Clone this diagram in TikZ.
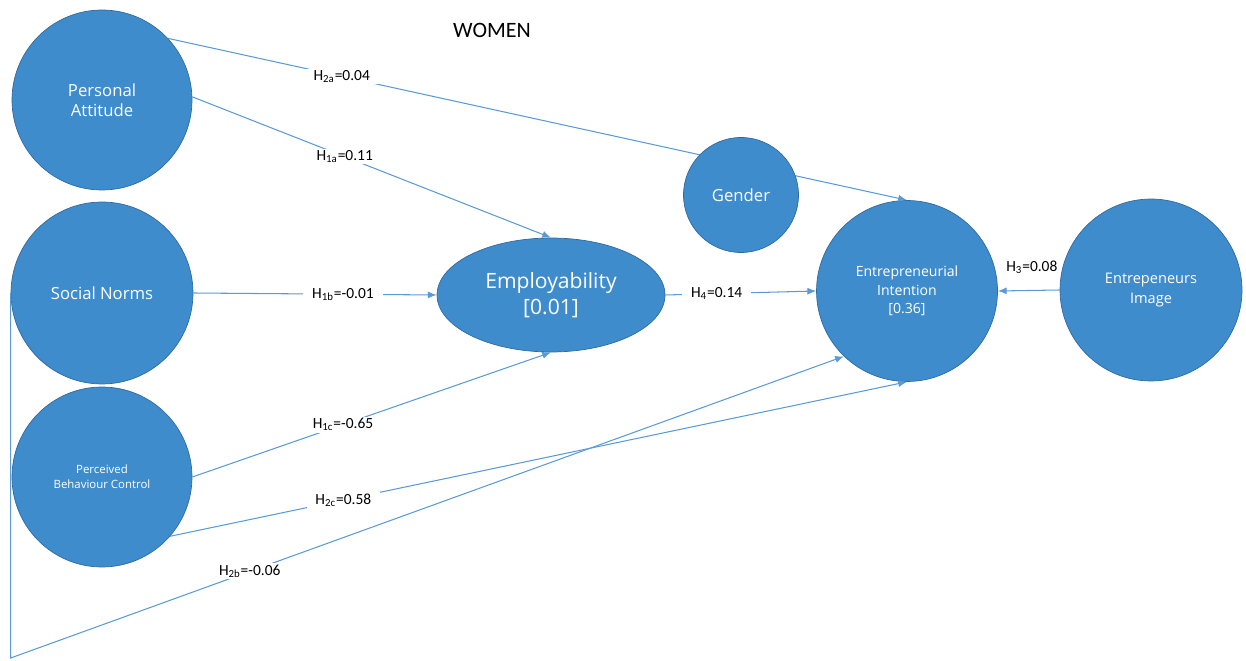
\documentclass[tikz,border=0pt]{standalone}
\usepackage{fontspec}
\setmainfont{Carlito}
\newfontfamily\circfont{Open Sans}
\usepackage{tikz}
\usetikzlibrary{arrows.meta,positioning,calc,shapes.geometric}
\definecolor{nodeblue}{HTML}{3F8CCD}
\definecolor{edgeblue}{HTML}{2E6AA0}
\definecolor{lineblue}{HTML}{5B9BD5}
\tikzstyle{construct}=[draw=edgeblue,fill=nodeblue,circle,inner sep=0pt,text=white,align=center,font=\circfont\fontsize{9.5}{11.5}\selectfont]
\tikzstyle{path}=[lineblue,line width=0.6pt,-{Latex[length=5pt,width=4pt]}]
\tikzstyle{coef}=[fill=white,text=black,inner xsep=5pt,inner ysep=1pt,font=\fontsize{8.8}{10}\selectfont]

\begin{document}
\begin{tikzpicture}[x=0.02cm,y=-0.02cm]
\useasboundingbox (0,0) rectangle (1246,661);
\node [font=\fontsize{12.5}{14}\selectfont] (title) at (492,30) {WOMEN};
% constructs
\node [construct,minimum size=3.6cm] (pa) at (102,100) {Personal\\Attitude};
\node [construct,minimum size=3.64cm] (sn) at (102,293) {Social Norms};
\node [construct,minimum size=3.6cm,font=\circfont\fontsize{6.5}{8.5}\selectfont] (pbc) at (102,477) {Perceived\\Behaviour Control};
\node [construct,ellipse,minimum width=4.56cm,minimum height=2.28cm,font=\circfont\fontsize{12}{15}\selectfont] (emp) at (551,295) {Employability\\{}[0.01]};
\node [construct,minimum size=3.62cm,font=\circfont\fontsize{8}{10.5}\selectfont] (ei) at (907,291) {Entrepreneurial\\Intention\\{}[0.36]};
\node [construct,minimum size=3.64cm,font=\circfont\fontsize{8.3}{11}\selectfont] (img) at (1151,290) {Entrepeneurs\\Image};
\coordinate (crn) at (sn.west |- 0,658);
% paths
\draw [path] (pa.43) -- node [coef,pos=0.235] {H\textsubscript{2a}=0.04} (ei.north);
\node [construct,minimum size=2.3cm] (gen) at (741,195) {Gender};
\draw [path] (pa.2) -- node [coef,pos=0.425] {H\textsubscript{1a}=0.11} (emp.north);
\draw [path] (sn.east) -- node [coef,pos=0.615] {H\textsubscript{1b}=-0.01} (emp.west);
\draw [path] (pbc.east) -- node [coef,pos=0.42] {H\textsubscript{1c}=-0.65} (emp.south);
\draw [path] (pbc.-41) -- node [coef,pos=0.235] {H\textsubscript{2c}=0.58} (ei.south);
\draw [path] (sn.west) -- (crn) -- node [coef,pos=0.287] {H\textsubscript{2b}=-0.06} (ei.226);
\draw [path] (emp.east) -- node [coef,pos=0.34] {H\textsubscript{4}=0.14} (ei.west);
\draw [path] (img.west) -- node [above=6pt,text=black,inner xsep=1pt,font=\fontsize{8.8}{10}\selectfont,pos=0.45] {H\textsubscript{3}=0.08} (ei.east);
\end{tikzpicture}
\end{document}
